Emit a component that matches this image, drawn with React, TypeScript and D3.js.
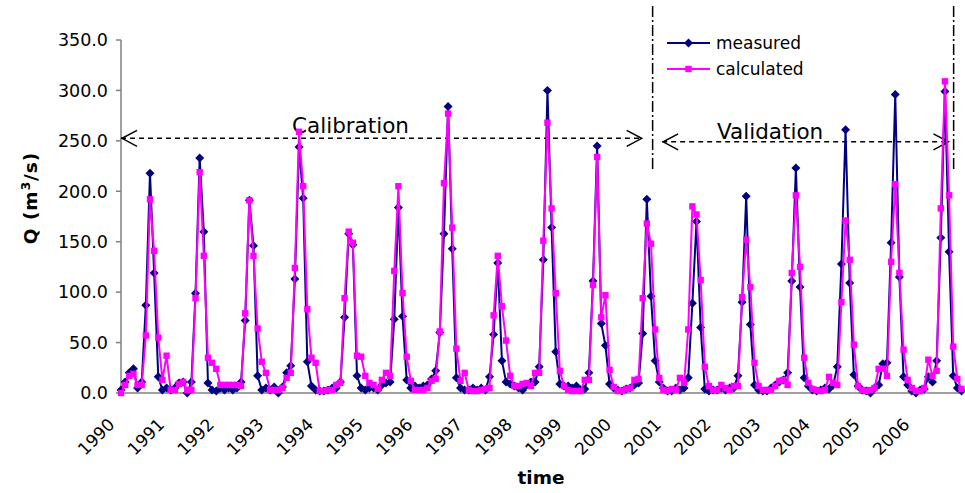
import React from 'react';
import * as d3 from 'd3';

const years = ['1990','1991','1992','1993','1994','1995','1996','1997','1998','1999','2000','2001','2002','2003','2004','2005','2006'];

const measured = [
  3, 11, 20, 24, 5, 11, 87, 218, 119, 16, 3, 5,
  3, 5, 10, 11, 0, 11, 99, 233, 160, 10, 3, 2,
  5, 3, 5, 3, 5, 11, 72, 191, 146, 17, 3, 5,
  3, 6, 0, 6, 20, 27, 113, 244, 193, 31, 7, 3,
  2, 2, 3, 5, 5, 11, 75, 158, 147, 17, 5, 3,
  5, 5, 3, 8, 10, 11, 73, 184, 76, 13, 5, 7,
  5, 7, 8, 14, 22, 60, 158, 284, 143, 15, 5, 3,
  3, 5, 3, 5, 3, 16, 58, 129, 32, 11, 9, 7,
  5, 3, 8, 11, 11, 26, 132, 300, 164, 41, 9, 7,
  7, 5, 7, 3, 4, 20, 111, 245, 69, 47, 9, 5,
  3, 2, 4, 5, 8, 10, 59, 192, 96, 32, 11, 5,
  2, 2, 5, 3, 5, 15, 89, 170, 65, 4, 2, 3,
  3, 5, 3, 5, 5, 17, 90, 195, 68, 8, 3, 2,
  2, 5, 8, 11, 13, 20, 111, 223, 105, 15, 7, 3,
  2, 3, 5, 4, 8, 26, 128, 261, 109, 18, 7, 3,
  2, 0, 5, 8, 29, 30, 149, 296, 115, 16, 8, 2,
  0, 3, 4, 16, 11, 32, 154, 299, 140, 17, 5, 2,
];

const calculated = [
  0, 8, 17, 19, 8, 8, 57, 192, 141, 55, 13, 37,
  3, 3, 9, 11, 3, 3, 94, 219, 136, 35, 30, 24,
  8, 8, 8, 8, 8, 7, 79, 191, 136, 64, 31, 20,
  3, 3, 3, 5, 15, 20, 124, 259, 205, 83, 35, 30,
  2, 2, 3, 3, 8, 10, 94, 160, 149, 37, 36, 17,
  10, 8, 4, 13, 20, 17, 121, 205, 99, 36, 12, 3,
  3, 3, 5, 12, 14, 61, 208, 277, 164, 44, 12, 20,
  3, 2, 2, 3, 4, 5, 77, 136, 86, 52, 17, 7,
  7, 9, 10, 7, 20, 20, 151, 268, 183, 99, 22, 7,
  3, 2, 2, 2, 13, 13, 107, 234, 75, 97, 23, 6,
  2, 2, 4, 5, 13, 14, 94, 168, 148, 63, 15, 3,
  2, 4, 3, 15, 10, 63, 185, 177, 112, 26, 7, 3,
  3, 8, 5, 3, 7, 7, 95, 152, 105, 30, 7, 3,
  3, 3, 7, 12, 13, 8, 119, 196, 125, 35, 10, 4,
  3, 2, 3, 16, 10, 8, 90, 171, 132, 48, 7, 3,
  2, 3, 5, 24, 24, 17, 130, 207, 119, 43, 13, 5,
  2, 2, 5, 33, 17, 22, 183, 309, 196, 46, 14, 4,
];

const yTicks = [0, 50, 100, 150, 200, 250, 300, 350];

// annotation anchors in data units
const splitIndex = 128.4;
const validationEndIndex = 201.1;
const calibArrow = { from: 0, to: 126, value: 252.5 };
const validArrow = { from: 130.7, to: 200.1, value: 249 };

const FONT = '"DejaVu Sans", Verdana, sans-serif';
const NAVY = '#000080';
const MAGENTA = '#FF00FF';

export default function App() {
  const W = 965, H = 493;
  const x = d3.scaleLinear().domain([0, measured.length - 1]).range([121, 961.5]);
  const y = d3.scaleLinear().domain([0, 350]).range([393, 40]);
  const line = d3.line<number>().x((_, i) => x(i)).y(d => y(d));
  const diamond = (cx: number, cy: number, r = 4.5) => `M${cx},${cy - r}L${cx + r},${cy}L${cx},${cy + r}L${cx - r},${cy}Z`;

  const arrow = (x1: number, x2: number, yy: number) => (
    <g>
      <line x1={x1} x2={x2} y1={yy} y2={yy} stroke="#000" strokeWidth={1.5} strokeDasharray="5,4" />
      <polyline points={`${x1 + 16},${yy - 8} ${x1 + 1},${yy} ${x1 + 16},${yy + 8}`} fill="none" stroke="#000" strokeWidth={1.5} />
      <polyline points={`${x2 - 16},${yy - 8} ${x2 - 1},${yy} ${x2 - 16},${yy + 8}`} fill="none" stroke="#000" strokeWidth={1.5} />
    </g>
  );

  return (
    <svg width={W} height={H} style={{ position: 'absolute', left: 0, top: 0, background: '#fff' }} fontFamily={FONT}>
      <rect width={W} height={H} fill="#fff" />
      {/* axes */}
      <line x1={x(0)} x2={x(0)} y1={y(350)} y2={y(0)} stroke="#808080" strokeWidth={1.5} />
      <line x1={x(0)} x2={x(measured.length - 1) + 1} y1={y(0)} y2={y(0)} stroke="#808080" strokeWidth={1.5} />
      {yTicks.map(t => (
        <g key={t}>
          <line x1={x(0) - 5} x2={x(0)} y1={y(t)} y2={y(t)} stroke="#808080" strokeWidth={1.5} />
          <text x={x(0) - 13} y={y(t)} dy="0.36em" textAnchor="end" fontSize={17.5} fill="#000">{t.toFixed(1)}</text>
        </g>
      ))}
      {years.map((yr, k) => {
        const tx = x(k * 12);
        return (
          <text key={yr} transform={`translate(${tx - 14},${417}) rotate(-45)`} textAnchor="end" dy="0.72em" fontSize={17} fill="#000">{yr}</text>
        );
      })}
      <text x={541} y={484} textAnchor="middle" fontSize={18.5} fontWeight="bold" fill="#000">time</text>
      <text transform={`translate(37,198) rotate(-90)`} textAnchor="middle" fontSize={18.5} fontWeight="bold" fill="#000" letterSpacing={1}>
        Q (m<tspan fontSize={12} dy={-7}>3</tspan><tspan dy={7}>/s)</tspan>
      </text>

      {/* annotations */}
      {[splitIndex, validationEndIndex].map((si, k) => (
        <line key={k} x1={x(si)} x2={x(si)} y1={6} y2={172} stroke="#000" strokeWidth={1.5} strokeDasharray="11,3,2,3" />
      ))}
      {arrow(x(calibArrow.from), x(calibArrow.to), y(calibArrow.value))}
      {arrow(x(validArrow.from), x(validArrow.to), y(validArrow.value))}
      <text x={292} y={y(calibArrow.value) - 5} fontSize={21.5} fill="#000">Calibration</text>
      <text x={717} y={y(validArrow.value) - 3} fontSize={21.5} fill="#000">Validation</text>

      {/* series */}
      <path d={line(measured) || ''} fill="none" stroke={NAVY} strokeWidth={2} />
      {measured.map((v, i) => (
        <path key={'m' + i} d={diamond(x(i), y(v))} fill={NAVY} />
      ))}
      <path d={line(calculated) || ''} fill="none" stroke={MAGENTA} strokeWidth={2} />
      {calculated.map((v, i) => (
        <rect key={'c' + i} x={x(i) - 3.2} y={y(v) - 3.2} width={6.4} height={6.4} fill={MAGENTA} />
      ))}

      {/* legend */}
      <g>
        <line x1={667} x2={710} y1={43} y2={43} stroke={NAVY} strokeWidth={2} />
        <path d={diamond(688.5, 43)} fill={NAVY} />
        <text x={716} y={43} dy="0.35em" fontSize={17} fill="#000">measured</text>
        <line x1={667} x2={710} y1={69} y2={69} stroke={MAGENTA} strokeWidth={2} />
        <rect x={685.3} y={65.8} width={6.4} height={6.4} fill={MAGENTA} />
        <text x={716} y={69} dy="0.35em" fontSize={17} fill="#000">calculated</text>
      </g>
    </svg>
  );
}
